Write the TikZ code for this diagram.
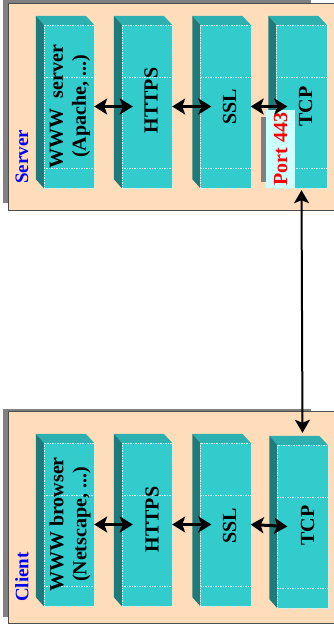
\documentclass[tikz,border=0pt]{standalone}
\usepackage{fontspec}
\setmainfont{Liberation Serif}
\usetikzlibrary{arrows.meta,calc,positioning}
\definecolor{panelbg}{HTML}{FFDDBB}
\definecolor{mgrey}{HTML}{808080}
\definecolor{tfront}{HTML}{33CCCC}
\definecolor{ttop}{HTML}{2DB0B0}
\definecolor{tside}{HTML}{1F7B7B}
\definecolor{portbg}{HTML}{CCFFFF}
\tikzstyle{panel}=[fill=panelbg, draw=black!70, line width=0.8pt]
\tikzstyle{shade}=[fill=mgrey]
\tikzstyle{layer}=[rectangle, fill=tfront, minimum width=50pt, minimum height=163pt, inner sep=0pt]
\tikzstyle{topface}=[fill=ttop]
\tikzstyle{sideface}=[fill=tside]
\tikzstyle{gridline}=[draw=white!75!tfront, line width=0.3pt, dash pattern=on 1.5pt off 1pt]
\tikzstyle{lbl}=[rotate=90, font=\fontsize{20}{23}\selectfont\bfseries, align=center, inner sep=0pt]
\tikzstyle{side}=[rotate=90, font=\fontsize{19}{21}\selectfont\bfseries, text=blue, inner sep=0pt]
\tikzstyle{port}=[rotate=90, fill=portbg, text=red, minimum width=78pt, minimum height=29pt, inner sep=0pt, font=\fontsize{20}{23}\selectfont\bfseries]
\tikzstyle{link}=[line width=3pt, >={Stealth[length=13pt,width=16pt,inset=3pt]}, <->]
\tikzstyle{wire}=[line width=2pt, >={Stealth[length=13pt,width=15pt,inset=3pt]}, <->]

\begin{document}
\begin{tikzpicture}[x=1pt, y=-1pt]

    \useasboundingbox (0,0) rectangle (334,640);

    % panels
    \fill[shade] (3,0) rectangle (311,203);
    \draw[panel] (8,3) rectangle (345,210);
    \fill[shade] (3,409) rectangle (311,617);
    \draw[panel] (8,411) rectangle (345,623);

    \node[side] (server) at (22,157) {Server};
    \node[side] (client) at (22,577) {Client};

    % layers
    \foreach \i/\x in {1/69, 2/147, 3/225.5, 4/301.5}{
            \node[layer] (s\i) at (\x,106.5) {};
        }
    \foreach \i/\x/\y in {1/69/524.5, 2/147/524.5, 3/225.5/524.5, 4/302.5/526.5}{
            \node[layer] (c\i) at (\x,\y) {};
        }

    \foreach \n in {s1,s2,s3,s4,c1,c2,c3,c4}{
            \fill[topface] (\n.north west) -- ++(-8,-9) -- ++(50,0) -- (\n.north east) -- cycle;
            \fill[sideface] (\n.north west) -- ++(-8,-9) -- ([shift={(-8,-9)}]\n.south west) -- (\n.south west) -- cycle;
            \draw[gridline] (\n.north west) rectangle (\n.south east);
            \draw[gridline] ($(\n.north west)!0.32!(\n.south west)$) -- ($(\n.north east)!0.32!(\n.south east)$);
            \draw[gridline] ($(\n.north west)!0.88!(\n.south west)$) -- ($(\n.north east)!0.88!(\n.south east)$);
        }

    \node[lbl] (swww) at ([xshift=1pt]s1) {WWW\ \ server\\(Apache, ...)};
    \node[lbl] (shttps) at ([xshift=4pt,yshift=6pt]s2) {HTTPS};
    \node[lbl] (sssl) at ([xshift=4pt]s3) {SSL};
    \node[lbl] (stcp) at ([xshift=4pt]s4) {TCP};

    \node[lbl] (cwww) at ([xshift=1pt]c1) {WWW browser\\(Netscape, ...)};
    \node[lbl] (chttps) at ([xshift=5pt,yshift=5pt]c2) {HTTPS};
    \node[lbl] (cssl) at ([xshift=4pt,yshift=-1pt]c3) {SSL};
    \node[lbl] (ctcp) at ([xshift=5pt,yshift=1pt]c4) {TCP};

    % port
    \fill[shade] (261,117) rectangle (266,182);
    \node[port] (p443) at (280.5,149) {Port 443};

    % arrows
    \draw[link] (s1.east) -- ([xshift=11pt]s2.west);
    \draw[link] (s2.east) -- ([xshift=11pt]s3.west);
    \draw[link] (s3.east) -- ([xshift=11pt]s4.west);
    \draw[link] (c1.east) -- ([xshift=11pt]c2.west);
    \draw[link] (c2.east) -- ([xshift=11pt]c3.west);
    \draw[link] (c3.east) -- ([xshift=10pt]c4.west);

    \draw[wire] ([yshift=-2pt]s4.south) -- ([yshift=12pt]c4.north);

\end{tikzpicture}
\end{document}
